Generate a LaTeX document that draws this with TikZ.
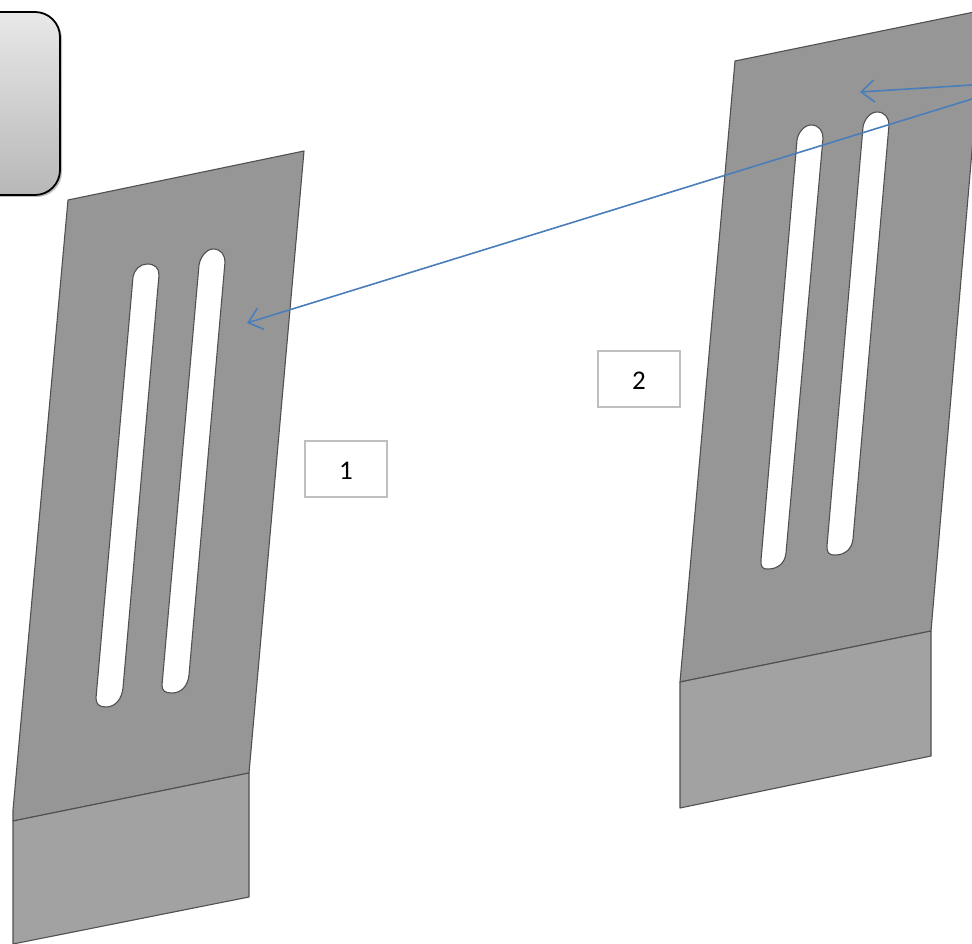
\documentclass[tikz,border=0pt]{standalone}
\usepackage{fontspec}
\setmainfont{Carlito}
\usetikzlibrary{arrows.meta,calc,shadows,shadings}
\definecolor{platedark}{HTML}{969696}
\definecolor{platelight}{HTML}{A2A2A2}
\definecolor{plateedge}{HTML}{505050}
\definecolor{arrowblue}{HTML}{4A7EBB}
\tikzset{
  platetop/.style={fill=platedark,draw=plateedge,line width=1.1pt,line join=round},
  platelow/.style={fill=platelight,draw=plateedge,line width=1.1pt,line join=round},
  slotshape/.style={fill=white,draw=plateedge,line width=1.1pt},
  numbox/.style={draw=black!25,line width=1.4pt,fill=white,minimum width=82pt,minimum height=56pt,inner sep=0pt,text height=20pt,text depth=0pt,font=\fontsize{27}{32}\selectfont,text=black},
  callout/.style={draw=black,line width=1.8pt,rounded corners=25pt,top color=black!9,bottom color=black!28,
    drop shadow={shadow xshift=2pt,shadow yshift=-2pt,opacity=.25,fill=black}},
  bluearrow/.style={draw=arrowblue,line width=1.6pt,-{Straight Barb[length=13pt,width=22pt,line width=1.6pt]}}
}
\newcommand{\slotat}[6]{%
  \path[slotshape] (#1)
    .. controls ($(#1)+(1,-7)$) and ($(#2)+(-7,0)$) .. (#2)
    .. controls ($(#2)+(8,0)$) and ($(#3)+(0,-7)$) .. (#3)
    -- (#4)
    .. controls ($(#4)+(-1,10)$) and ($(#5)+(10,0)$) .. (#5)
    .. controls ($(#5)+(-7,0)$) and ($(#6)+(0,6)$) .. (#6)
    -- cycle;}
\begin{document}
\begin{tikzpicture}[x=1pt,y=-1pt]
\useasboundingbox (0,0) rectangle (972,944);
\clip (0,0) rectangle (972,944);

% callout
\path[callout] (-40,12) rectangle (60,195);

% plate 1
\path[platetop] (68,200) -- (304,151) -- (249,773) -- (13,821) -- (13,810) -- cycle;
\path[platelow] (13,821) -- (249,773) -- (249,897) -- (13,944) -- cycle;
\slotat{133,277}{147,264}{159,275}{123,688}{106,707}{96,698}
\slotat{199,265}{213,249}{225,262}{189,675}{172,693}{162,685}

% plate 2
\path[platetop] (735,61) -- (984,10) -- (931,631) -- (680,682) -- cycle;
\path[platelow] (680,682) -- (931,631) -- (931,756) -- (680,808) -- cycle;
\slotat{797,140}{811,125}{823,138}{786,553}{768,569}{761,560}
\slotat{863,127}{877,112}{889,125}{853,539}{835,555}{827,546}

% labels
\node[numbox] (one) at (346,469) {1};
\node[numbox] (two) at (639,379) {2};

% connectors
\coordinate (srcA) at (972,85);
\coordinate (srcB) at (972,99);
\coordinate (tipA) at (860,92);
\coordinate (tipB) at (247,323);
\draw[bluearrow] (srcA) -- (tipA);
\draw[bluearrow] (srcB) -- (tipB);
\end{tikzpicture}
\end{document}
